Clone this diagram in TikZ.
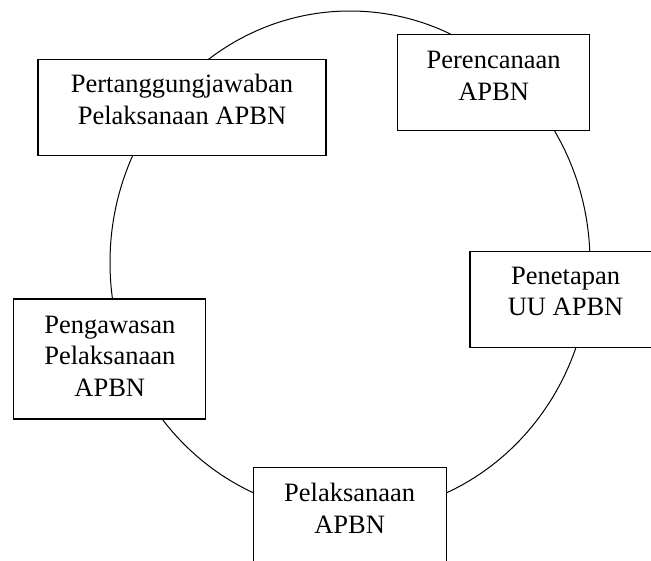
\documentclass[tikz,border=0pt]{standalone}
\usepackage{fontspec}
\setmainfont{Liberation Serif}
\usepackage{tikz}
\usetikzlibrary{positioning}
\tikzset{
  stage/.style={draw, fill=white, line width=1.3pt, inner sep=0pt},
  stagetext/.style={align=center, inner sep=0pt, font=\fontsize{26.5}{31.5}\selectfont},
}

\begin{document}
\begin{tikzpicture}[x=1pt,y=-1pt]
\useasboundingbox (0,0) rectangle (651,560);
\clip (0,0) rectangle (651,560);
\draw[line width=1pt] (350,262.5) ellipse [x radius=240, y radius=251.5];
\node[stage, minimum width=288pt, minimum height=96pt] (tanggung) at (182,107.3) {};
\node[stage, minimum width=192pt, minimum height=96pt] (rencana) at (493.6,82.7) {};
\node[stage, minimum width=191pt, minimum height=96pt] (tetap) at (565.6,299.7) {};
\node[stage, minimum width=192pt, minimum height=120pt] (awas) at (109.8,358.9) {};
\node[stage, minimum width=193pt, minimum height=96pt] (laksana) at (349.7,515.3) {};
\node[stagetext, below=15.5pt of tanggung.north] (tanggung text) {Pertanggungjawaban\\Pelaksanaan APBN};
\node[stagetext, below=17pt of rencana.north] (rencana text) {Perencanaan\\APBN};
\node[stagetext, below=15.5pt of tetap.north] (tetap text) {Penetapan\\UU APBN};
\node[stagetext, below=17.5pt of awas.north] (awas text) {Pengawasan\\Pelaksanaan\\APBN};
\node[stagetext, below=16.5pt of laksana.north] (laksana text) {Pelaksanaan\\APBN};
\end{tikzpicture}
\end{document}
